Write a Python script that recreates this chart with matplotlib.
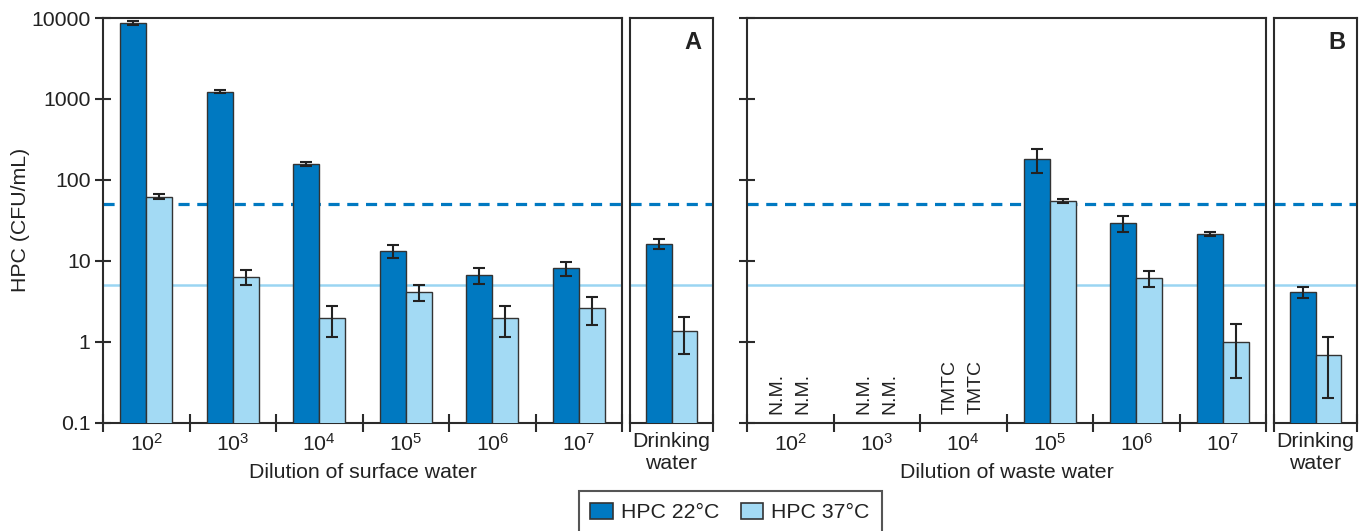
import matplotlib
matplotlib.use("Agg")
import matplotlib.pyplot as plt
import numpy as np
from matplotlib.patches import Patch
from matplotlib.ticker import FixedLocator, FixedFormatter, NullLocator

plt.rcParams['font.family'] = ['Liberation Sans', 'DejaVu Sans']
plt.rcParams['mathtext.fontset'] = 'custom'
plt.rcParams['mathtext.rm'] = 'Liberation Sans'
plt.rcParams['mathtext.it'] = 'Liberation Sans'
plt.rcParams['lines.scale_dashes'] = False

# ---------------- data ----------------
dilutions = ["$10^{2}$", "$10^{3}$", "$10^{4}$", "$10^{5}$", "$10^{6}$", "$10^{7}$"]
drinking_label = "Drinking\nwater"

# Panel A: surface water
a_22 = [8700, 1230, 157, 13.2, 6.7, 8.1]
a_22_err = [400, 50, 8, 2.5, 1.5, 1.6]
a_37 = [62, 6.4, 1.96, 4.1, 1.96, 2.6]
a_37_err = [4, 1.4, 0.8, 0.9, 0.8, 1.0]
a_dw_22, a_dw_22_err = 16.1, 2.3
a_dw_37, a_dw_37_err = 1.35, 0.65

# Panel B: waste water (NaN = not measured / too many to count)
b_22 = [np.nan, np.nan, np.nan, 181, 29.2, 21.4]
b_22_err = [0, 0, 0, 58, 6.5, 1.0]
b_37 = [np.nan, np.nan, np.nan, 54.7, 6.1, 1.0]
b_37_err = [0, 0, 0, 3.5, 1.4, 0.64]
b_notes = ["N.M.", "N.M.", "TMTC", "", "", ""]
b_dw_22, b_dw_22_err = 4.1, 0.6
b_dw_37, b_dw_37_err = 0.68, 0.48

limit_22 = 50
limit_37 = 5

series_labels = ["HPC 22°C", "HPC 37°C"]
y_ticks = [0.1, 1, 10, 100, 1000, 10000]
y_tick_labels = ["0.1", "1", "10", "100", "1000", "10000"]

# ---------------- style ----------------
C_DARK = '#0079C1'
C_LIGHT = '#A3DAF4'
C_LINE_LIGHT = '#9AD5F2'
EDGE = '#333333'
SPINE = '#2b2b2b'
TXT = '#222222'
W = 0.3
FS = 15.3

W_PX, H_PX = 1367, 531
fig = plt.figure(figsize=(W_PX / 100, H_PX / 100), dpi=100)

def fx(px):
    return px / W_PX

top = 1 - 18 / H_PX
bot = 1 - 422.7 / H_PX
h = top - bot

axA = fig.add_axes([fx(103), bot, fx(519), h])
axAd = fig.add_axes([fx(630), bot, fx(83), h])
axB = fig.add_axes([fx(747), bot, fx(519), h])
axBd = fig.add_axes([fx(1274), bot, fx(83), h])

err_kw = dict(ecolor='#222222', elinewidth=1.5, capsize=4.0, capthick=1.5)

def style(ax, n, labels, ylabels):
    ax.set_yscale('log')
    ax.set_ylim(0.1, 10000)
    if n == 1:
        ax.set_xlim(-0.48, 0.48)
        bounds = [-0.48, 0.48]
        centers = [0]
    else:
        ax.set_xlim(-0.5, n - 0.5)
        bounds = list(np.arange(-0.5, n, 1.0))
        centers = list(range(n))
    ax.xaxis.set_major_locator(FixedLocator(bounds))
    ax.xaxis.set_major_formatter(FixedFormatter([''] * len(bounds)))
    ax.xaxis.set_minor_locator(FixedLocator(centers))
    ax.xaxis.set_minor_formatter(FixedFormatter(labels))
    ax.tick_params(axis='x', which='major', direction='inout', length=13,
                   width=1.5, color=SPINE)
    ax.tick_params(axis='x', which='minor', length=0, pad=7, labelsize=FS,
                   labelcolor=TXT)
    if ylabels is None:
        ax.yaxis.set_major_locator(NullLocator())
        ax.yaxis.set_minor_locator(NullLocator())
    else:
        ax.yaxis.set_major_locator(FixedLocator(y_ticks))
        ax.yaxis.set_major_formatter(FixedFormatter(ylabels))
        ax.yaxis.set_minor_locator(NullLocator())
        ax.tick_params(axis='y', which='major', direction='inout', length=12,
                       width=1.5, color=SPINE, labelsize=FS, pad=3,
                       labelcolor=TXT)
    for s in ax.spines.values():
        s.set_linewidth(1.5)
        s.set_color(SPINE)
    ax.axhline(limit_22, color=C_DARK, lw=2.3, ls=(0, (8, 5.5)), zorder=1)
    ax.axhline(limit_37, color=C_LINE_LIGHT, lw=1.8, zorder=1)

def bars(ax, x, v22, e22, v37, e37):
    x = np.asarray(x, dtype=float)
    ax.bar(x - W / 2, v22, W, color=C_DARK, edgecolor=EDGE, linewidth=1.0,
           zorder=3, yerr=e22, error_kw=err_kw)
    ax.bar(x + W / 2, v37, W, color=C_LIGHT, edgecolor=EDGE, linewidth=1.0,
           zorder=3, yerr=e37, error_kw=err_kw)

# Panel A
style(axA, 6, dilutions, y_tick_labels)
bars(axA, range(6), a_22, a_22_err, a_37, a_37_err)
style(axAd, 1, [drinking_label], None)
bars(axAd, [0], [a_dw_22], [a_dw_22_err], [a_dw_37], [a_dw_37_err])

# Panel B
style(axB, 6, dilutions, [''] * len(y_ticks))
valid = [i for i in range(6) if not np.isnan(b_22[i])]
bars(axB, valid, [b_22[i] for i in valid], [b_22_err[i] for i in valid],
     [b_37[i] for i in valid], [b_37_err[i] for i in valid])
for i, note in enumerate(b_notes):
    if note:
        for dx in (-W / 2, W / 2):
            axB.text(i + dx, 0.022, note, rotation=90, ha='center', va='bottom',
                     fontsize=14, color=TXT,
                     transform=axB.get_xaxis_transform())
style(axBd, 1, [drinking_label], None)
bars(axBd, [0], [b_dw_22], [b_dw_22_err], [b_dw_37], [b_dw_37_err])

for ax in (axAd, axBd):
    for lbl in ax.get_xminorticklabels():
        lbl.set_linespacing(1.2)

axAd.text(0.76, 0.94, 'A', transform=axAd.transAxes, fontsize=17,
          fontweight='bold', ha='center', va='center', color=TXT)
axBd.text(0.76, 0.94, 'B', transform=axBd.transAxes, fontsize=17,
          fontweight='bold', ha='center', va='center', color=TXT)

axA.set_ylabel('HPC (CFU/mL)', fontsize=FS, color=TXT, labelpad=1)
fig.text(fx(362.5), 1 - 472 / H_PX, 'Dilution of surface water', ha='center',
         va='center', fontsize=FS, color=TXT)
fig.text(fx(1006.5), 1 - 472 / H_PX, 'Dilution of waste water', ha='center',
         va='center', fontsize=FS, color=TXT)

handles = [Patch(facecolor=C_DARK, edgecolor=EDGE, linewidth=1.2),
           Patch(facecolor=C_LIGHT, edgecolor=EDGE, linewidth=1.2)]
leg = fig.legend(handles, series_labels, loc='upper center',
                 bbox_to_anchor=(fx(730), 1 - 491 / H_PX), ncol=2,
                 fontsize=FS, frameon=True, fancybox=False,
                 handlelength=1.05, handleheight=0.8, handletextpad=0.4,
                 columnspacing=1.0, borderpad=0.55, borderaxespad=0)
leg.get_frame().set_edgecolor(SPINE)
leg.get_frame().set_linewidth(1.5)
for t in leg.get_texts():
    t.set_color(TXT)

fig.savefig('out.png', dpi=100)
